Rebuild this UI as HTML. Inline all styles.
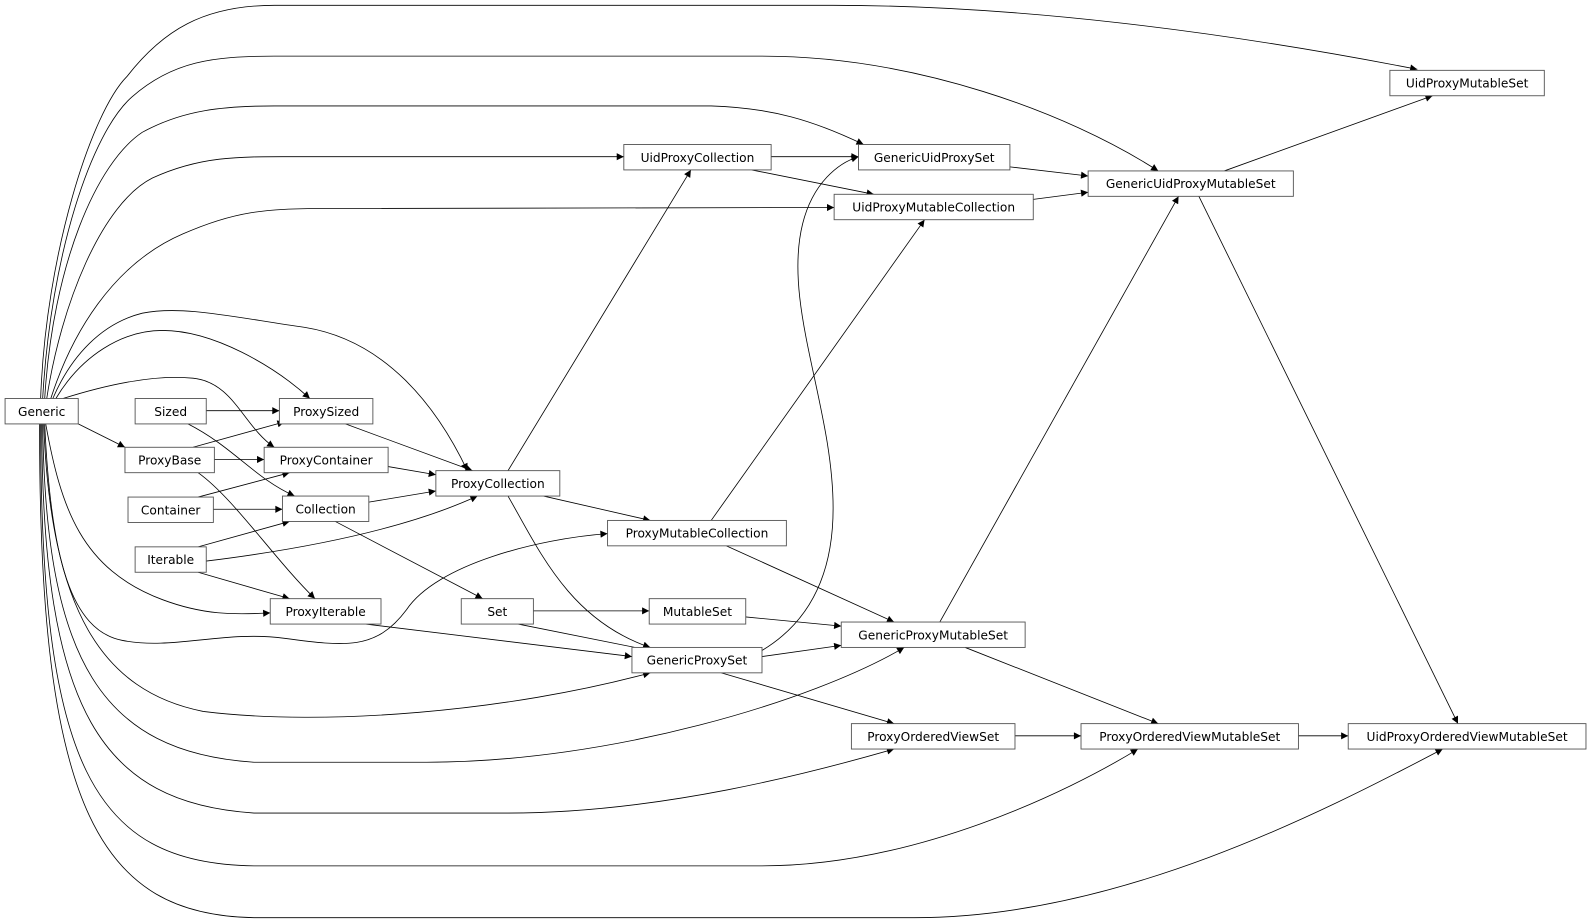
<!DOCTYPE html>
<html><head><meta charset="utf-8"><style>
html,body{margin:0;padding:0;background:#fff;}
svg{display:block;}
text{font-family:"DejaVu Sans","Liberation Sans",sans-serif;font-size:12px;fill:#000;}
</style></head><body>
<svg width="1588" height="922" viewBox="0 0 1563 907" xmlns="http://www.w3.org/2000/svg">
<defs><marker id="a" viewBox="0 0 10 10" refX="10" refY="5" markerWidth="9" markerHeight="7" markerUnits="userSpaceOnUse" orient="auto"><path d="M0,0 L10,5 L0,10 z" fill="#000"/></marker></defs>
<g fill="none" stroke="#000" stroke-width="0.8" marker-end="url(#a)">
<path d="M40,392 C45,250 90,110 125,75 C160,30 200,5 270,5 L820,5 C1000,5 1200,30 1395,68"/>
<path d="M42,392 C50,250 90,130 130,95 C170,60 210,55 270,55 L750,55 C900,55 1050,110 1140,168"/>
<path d="M44,392 C52,260 95,160 140,130 C180,108 220,104 270,104 L700,104 C760,106 800,118 850,142"/>
<path d="M46,392 C60,300 100,200 150,175 C200,152 240,154 300,154 L614,154"/>
<path d="M50,392 C70,330 110,260 180,230 C230,208 260,205 320,205 L821,204"/>
<path d="M52,392 C70,350 100,318 140,308 C180,300 230,312 300,322 C380,335 430,400 460,463"/>
<path d="M55,392 C80,350 120,325 160,325 C210,325 270,360 305,392"/>
<path d="M62,392 C100,380 150,368 190,372 C230,376 240,420 270,440"/>
<path d="M77,417 L123,440"/>
<path d="M45,417 C60,500 80,560 160,590 C200,605 230,605 266,603"/>
<path d="M44,417 C50,550 70,620 120,630 C170,640 220,620 280,628 C340,636 370,640 400,600 C430,555 530,530 598,525"/>
<path d="M43,417 C50,600 100,680 200,700 C320,715 500,700 640,662"/>
<path d="M42,417 C45,650 100,740 250,750 L420,750 C600,750 800,690 890,637"/>
<path d="M41,417 C42,700 100,790 250,800 L500,800 C650,800 800,760 880,737"/>
<path d="M40,417 C40,750 90,850 250,852 L750,852 C900,852 1050,780 1120,737"/>
<path d="M39,417 C38,800 100,900 250,903 L900,903 C1100,903 1300,800 1420,737"/>
<path d="M203,404 L275,404"/>
<path d="M185,417 C230,440 250,470 290,488"/>
<path d="M190,440 L280,415"/>
<path d="M211,452 L260,452"/>
<path d="M195,465 C230,490 270,550 310,589"/>
<path d="M340,417 L465,463"/>
<path d="M382,459 L429,467"/>
<path d="M195,489 L285,465"/>
<path d="M210,501 L278,501"/>
<path d="M363,494 L429,483"/>
<path d="M330,513 L475,589"/>
<path d="M195,538 L285,513"/>
<path d="M203,552 C300,540 400,520 470,488"/>
<path d="M195,563 L285,589"/>
<path d="M500,463 L680,167"/>
<path d="M535,488 L640,512"/>
<path d="M500,488 C530,540 560,610 640,637"/>
<path d="M360,614 L622,646"/>
<path d="M525,601 L639,601"/>
<path d="M510,614 L640,640"/>
<path d="M734,607 L828,616"/>
<path d="M750,646 L828,635"/>
<path d="M750,640 C800,610 820,560 820,500 C820,400 770,300 790,220 C800,180 825,160 845,154"/>
<path d="M710,662 L880,712"/>
<path d="M700,512 L910,216"/>
<path d="M715,537 L880,612"/>
<path d="M759,154 L845,154"/>
<path d="M740,167 L860,191"/>
<path d="M994,164 L1071,173"/>
<path d="M1017,196 L1071,189"/>
<path d="M1205,168 L1410,94"/>
<path d="M1180,193 L1435,712"/>
<path d="M925,612 L1160,193"/>
<path d="M950,637 L1140,712"/>
<path d="M999,724 L1064,724"/>
<path d="M1278,724 L1327,724"/>
</g>
<g fill="#fff" stroke="#555" stroke-width="0.9">
<rect x="5" y="392" width="72" height="25"/>
<rect x="133" y="392" width="70" height="25"/>
<rect x="275" y="392" width="92" height="25"/>
<rect x="123" y="440" width="88" height="25"/>
<rect x="260" y="440" width="122" height="25"/>
<rect x="126" y="489" width="84" height="25"/>
<rect x="278" y="488" width="85" height="25"/>
<rect x="429" y="463" width="122" height="25"/>
<rect x="133" y="538" width="70" height="25"/>
<rect x="598" y="512" width="176" height="25"/>
<rect x="266" y="589" width="109" height="25"/>
<rect x="454" y="589" width="71" height="25"/>
<rect x="639" y="589" width="95" height="25"/>
<rect x="622" y="637" width="128" height="25"/>
<rect x="828" y="612" width="181" height="25"/>
<rect x="838" y="712" width="161" height="25"/>
<rect x="1064" y="712" width="214" height="25"/>
<rect x="1327" y="712" width="234" height="25"/>
<rect x="614" y="142" width="145" height="25"/>
<rect x="845" y="142" width="149" height="25"/>
<rect x="821" y="191" width="196" height="25"/>
<rect x="1071" y="168" width="202" height="25"/>
<rect x="1368" y="69" width="152" height="25"/>
</g>
<g text-anchor="middle">
<text x="41" y="409">Generic</text>
<text x="168" y="409">Sized</text>
<text x="321" y="409">ProxySized</text>
<text x="167" y="457">ProxyBase</text>
<text x="321" y="457">ProxyContainer</text>
<text x="168" y="506">Container</text>
<text x="320.5" y="505">Collection</text>
<text x="490" y="480">ProxyCollection</text>
<text x="168" y="555">Iterable</text>
<text x="686" y="529">ProxyMutableCollection</text>
<text x="320.5" y="606">ProxyIterable</text>
<text x="489.5" y="606">Set</text>
<text x="686.5" y="606">MutableSet</text>
<text x="686" y="654">GenericProxySet</text>
<text x="918.5" y="629">GenericProxyMutableSet</text>
<text x="918.5" y="729">ProxyOrderedViewSet</text>
<text x="1171" y="729">ProxyOrderedViewMutableSet</text>
<text x="1444" y="729">UidProxyOrderedViewMutableSet</text>
<text x="686.5" y="159">UidProxyCollection</text>
<text x="919.5" y="159">GenericUidProxySet</text>
<text x="919" y="208">UidProxyMutableCollection</text>
<text x="1172" y="185">GenericUidProxyMutableSet</text>
<text x="1444" y="86">UidProxyMutableSet</text>
</g>
</svg>
</body></html>
